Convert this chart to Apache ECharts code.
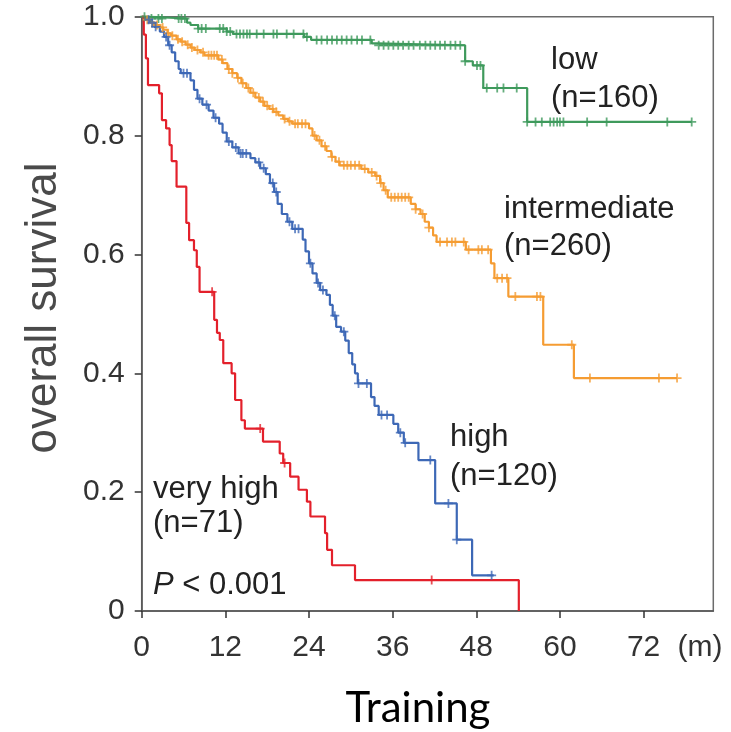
<!DOCTYPE html>
<html>
<head>
<meta charset="utf-8">
<script src="https://cdn.jsdelivr.net/npm/echarts@6/dist/echarts.min.js"></script>
<style>html,body{margin:0;padding:0;background:#fff}#c{width:731px;height:732px}</style>
</head>
<body>
<div id="c"></div>
<script>
// ---- data (months, survival) ----
const xTicks = [0, 12, 24, 36, 48, 60, 72];
const yTicks = [0, 0.2, 0.4, 0.6, 0.8, 1.0];

const lowTime = [0, 0.8, 6.5, 7.0, 8.1, 12.2, 13.1, 23.3, 24.3, 33.0, 33.7, 46.4, 47.5, 49.0, 55.3, 78.9];
const lowSurv = [1, 0.997, 0.99, 0.986, 0.98, 0.975, 0.971, 0.966, 0.961, 0.955, 0.952, 0.925, 0.918, 0.88, 0.823, 0.823];
const lowCensor = [0.4, 1.4, 2.4, 2.9, 5.3, 5.7, 6.2, 8.1, 8.6, 9.2, 11.2, 11.7, 12.2, 12.7, 13.6, 14.1, 14.6, 15.1, 15.5, 16.5, 17.5, 18.9, 19.4, 20.8, 21.8, 23.2, 23.7, 25.1, 25.8, 26.6, 27.3, 28.0, 28.7, 29.4, 30.1, 30.9, 31.6, 32.8, 34.0, 34.7, 35.4, 36.1, 36.8, 37.5, 38.3, 39.0, 39.9, 40.7, 41.4, 42.1, 42.8, 43.5, 44.3, 45.0, 45.7, 46.4, 48.1, 48.6, 49.5, 51.0, 51.9, 53.8, 55.3, 56.5, 57.4, 58.6, 59.1, 59.6, 60.0, 60.5, 63.9, 66.7, 75.4, 78.9];

const interTime = [0, 0.6, 1.2, 1.9, 2.6, 3.1, 3.7, 4.2, 5.0, 5.6, 6.3, 7.0, 7.6, 8.4, 9.0, 11.0, 11.6, 12.3, 13.0, 13.7, 14.3, 15.0, 15.6, 16.3, 17.0, 17.6, 18.3, 18.9, 19.6, 20.3, 21.0, 21.6, 24.0, 24.5, 25.1, 25.8, 26.5, 27.2, 27.8, 28.4, 31.5, 32.5, 33.5, 34.2, 34.7, 35.3, 38.6, 39.3, 40.0, 40.6, 41.2, 41.8, 42.3, 46.5, 50.1, 50.6, 52.6, 57.6, 62.0, 76.8];
const interSurv = [1, 0.995, 0.99, 0.986, 0.982, 0.978, 0.972, 0.968, 0.962, 0.958, 0.953, 0.948, 0.944, 0.94, 0.935, 0.928, 0.922, 0.912, 0.905, 0.897, 0.888, 0.88, 0.872, 0.864, 0.857, 0.85, 0.845, 0.84, 0.834, 0.828, 0.824, 0.82, 0.812, 0.8, 0.792, 0.782, 0.774, 0.764, 0.756, 0.75, 0.744, 0.738, 0.732, 0.72, 0.708, 0.696, 0.685, 0.676, 0.668, 0.655, 0.645, 0.632, 0.621, 0.608, 0.585, 0.56, 0.529, 0.448, 0.392, 0.392];
const interCensor = [0.8, 1.5, 2.2, 3.0, 3.8, 4.4, 5.2, 5.8, 6.6, 7.2, 8.0, 8.8, 9.6, 10.0, 10.4, 10.8, 11.5, 12.5, 13.0, 13.8, 14.5, 15.3, 16.0, 16.8, 17.4, 18.0, 18.8, 19.3, 20.5, 21.2, 22.0, 22.4, 23.0, 23.5, 24.8, 25.5, 26.3, 27.3, 28.3, 29.0, 29.5, 30.0, 30.6, 31.2, 32.0, 33.0, 33.7, 34.3, 35.0, 35.8, 36.3, 36.8, 37.3, 37.8, 38.3, 39.3, 40.3, 41.2, 42.8, 43.8, 44.5, 45.0, 46.2, 46.9, 48.3, 48.8, 49.7, 51.0, 51.7, 52.4, 53.6, 56.7, 57.2, 61.7, 64.3, 74.2, 76.8];

const highTime = [0, 0.5, 1.2, 1.8, 2.6, 3.2, 3.8, 4.3, 4.8, 5.3, 5.6, 7.0, 7.5, 8.0, 8.7, 9.6, 10.3, 11.1, 11.6, 12.2, 13.0, 13.9, 15.6, 16.3, 17.0, 17.8, 18.4, 19.0, 19.5, 20.1, 20.9, 21.6, 23.1, 23.5, 24.0, 24.5, 25.1, 25.6, 26.5, 27.0, 27.4, 27.9, 28.6, 29.2, 29.7, 30.2, 30.6, 31.0, 32.9, 33.4, 34.0, 36.1, 36.8, 37.6, 39.7, 42.1, 45.2, 47.4, 50.5];
const highSurv = [1, 0.995, 0.99, 0.983, 0.975, 0.966, 0.952, 0.94, 0.925, 0.912, 0.905, 0.893, 0.877, 0.862, 0.852, 0.842, 0.83, 0.82, 0.805, 0.79, 0.78, 0.77, 0.762, 0.755, 0.745, 0.735, 0.72, 0.705, 0.685, 0.668, 0.655, 0.643, 0.625, 0.605, 0.585, 0.568, 0.552, 0.54, 0.532, 0.515, 0.497, 0.478, 0.47, 0.455, 0.434, 0.415, 0.4, 0.383, 0.36, 0.345, 0.33, 0.315, 0.3, 0.283, 0.254, 0.181, 0.12, 0.06, 0.06];
const highCensor = [1.0, 1.5, 2.0, 3.5, 4.0, 6.0, 6.5, 8.3, 9.3, 10.6, 12.5, 13.5, 14.2, 14.5, 15.0, 16.8, 17.5, 18.8, 19.3, 21.2, 22.0, 22.5, 24.2, 25.3, 26.0, 27.7, 29.0, 31.1, 32.3, 34.4, 35.2, 37.1, 37.8, 41.4, 44.0, 45.2, 50.2];

const vhTime = [0, 0.3, 0.6, 0.9, 2.5, 2.9, 3.5, 4.0, 4.3, 5.0, 6.4, 6.8, 7.5, 7.9, 8.3, 10.4, 10.8, 11.2, 11.7, 12.9, 13.4, 14.3, 14.8, 17.4, 19.8, 20.3, 21.3, 22.5, 23.7, 24.2, 26.3, 26.6, 27.3, 30.6, 54.1];
const vhSurv = [1, 0.97, 0.93, 0.885, 0.871, 0.826, 0.812, 0.784, 0.757, 0.714, 0.653, 0.624, 0.607, 0.579, 0.537, 0.49, 0.468, 0.456, 0.417, 0.4, 0.355, 0.321, 0.307, 0.285, 0.265, 0.249, 0.226, 0.204, 0.184, 0.159, 0.131, 0.103, 0.077, 0.052, 0];
const vhCensor = [10.1, 17.0, 20.5, 41.6];

const colors = { low: '#3f9a5c', inter: '#f59c32', high: '#3d68b6', vh: '#e3202b' };

function pairs(T, S) { return T.map((t, i) => [t, S[i]]); }
function survAt(T, S, t) { let s = S[0]; for (let i = 0; i < T.length; i++) { if (T[i] <= t) s = S[i]; } return s; }
function censorPts(C, T, S) { return C.map(t => [t, survAt(T, S, t)]); }

const plus = 'path://M4,0h2v4h4v2h-4v4h-2v-4h-4v-2h4z';
function kmLine(name, T, S, color) {
  return { name, type: 'line', step: 'end', data: pairs(T, S), showSymbol: false, symbol: 'none',
    lineStyle: { color, width: 2.2 }, z: 3, animation: false };
}
function censor(name, C, T, S, color) {
  return { name: name + 'c', type: 'scatter', data: censorPts(C, T, S), symbol: plus, symbolSize: 9,
    itemStyle: { color }, z: 4, animation: false, silent: true };
}

const chart = echarts.init(document.getElementById('c'), null, { renderer: 'canvas' });
const labelFont = '"Liberation Sans", Arial, sans-serif';
const annFont = '"Liberation Sans", Arial, sans-serif';
chart.setOption({
  animation: false,
  backgroundColor: '#fff',
  grid: { left: 141.7, top: 16.7, right: 17.7, bottom: 121, show: true, borderColor: '#6b6b6b', borderWidth: 1.5, outerBoundsMode: 'none', containLabel: false },
  xAxis: {
    type: 'value', min: 0, max: 82, interval: 12,
    axisLine: { show: true, lineStyle: { color: '#555', width: 1.5 } },
    axisTick: { show: true, inside: false, length: 7, lineStyle: { color: '#333', width: 1.5 }, customValues: xTicks },
    axisLabel: { customValues: xTicks, margin: 22, fontSize: 30, fontFamily: labelFont, color: '#333', formatter: v => String(v) },
    splitLine: { show: false }
  },
  yAxis: {
    type: 'value', min: 0, max: 1, interval: 0.2,
    axisLine: { show: true, lineStyle: { color: '#555', width: 1.5 } },
    axisTick: { show: true, inside: false, length: 7, lineStyle: { color: '#333', width: 1.5 }, customValues: yTicks },
    axisLabel: { customValues: yTicks, margin: 17, fontSize: 30, fontFamily: labelFont, color: '#333', formatter: v => v === 0 ? '0' : v.toFixed(1) },
    splitLine: { show: false }
  },
  series: [
    kmLine('low', lowTime, lowSurv, colors.low),
    kmLine('intermediate', interTime, interSurv, colors.inter),
    kmLine('high', highTime, highSurv, colors.high),
    kmLine('very high', vhTime, vhSurv, colors.vh),
    censor('low', lowCensor, lowTime, lowSurv, colors.low),
    censor('intermediate', interCensor, interTime, interSurv, colors.inter),
    censor('high', highCensor, highTime, highSurv, colors.high),
    censor('very high', vhCensor, vhTime, vhSurv, colors.vh)
  ],
  graphic: [
    { type: 'text', x: 551, y: 60, style: { text: 'low', font: '31px ' + annFont, fill: '#222', align: 'left', verticalAlign: 'middle' } },
    { type: 'text', x: 551, y: 98, style: { text: '(n=160)', font: '31px ' + annFont, fill: '#222', align: 'left', verticalAlign: 'middle' } },
    { type: 'text', x: 504, y: 209, style: { text: 'intermediate', font: '31px ' + annFont, fill: '#222', align: 'left', verticalAlign: 'middle' } },
    { type: 'text', x: 504, y: 246, style: { text: '(n=260)', font: '31px ' + annFont, fill: '#222', align: 'left', verticalAlign: 'middle' } },
    { type: 'text', x: 450, y: 437, style: { text: 'high', font: '31px ' + annFont, fill: '#222', align: 'left', verticalAlign: 'middle' } },
    { type: 'text', x: 450, y: 476, style: { text: '(n=120)', font: '31px ' + annFont, fill: '#222', align: 'left', verticalAlign: 'middle' } },
    { type: 'text', x: 153, y: 489, style: { text: 'very high', font: '31px ' + annFont, fill: '#222', align: 'left', verticalAlign: 'middle' } },
    { type: 'text', x: 153, y: 523, style: { text: '(n=71)', font: '31px ' + annFont, fill: '#222', align: 'left', verticalAlign: 'middle' } },
    { type: 'text', x: 153, y: 585, style: { text: '{i|P} < 0.001', font: '31px ' + annFont, fill: '#222', align: 'left', verticalAlign: 'middle',
        rich: { i: { fontStyle: 'italic', fontSize: 31, fontFamily: annFont, fill: '#222' } } } },
    { type: 'text', x: 700, y: 648, style: { text: '(m)', font: '30px ' + labelFont, fill: '#333', align: 'center', verticalAlign: 'middle' } },
    { type: 'text', x: 44, y: 308, rotation: Math.PI / 2, style: { text: 'overall survival', font: '44px ' + annFont, fill: '#4a4a4a', align: 'center', verticalAlign: 'middle' } },
    { type: 'text', x: 418, y: 708, style: { text: 'Training', font: '42px Lato, "Open Sans", sans-serif', fill: '#000', align: 'center', verticalAlign: 'middle' } }
  ]
});
</script>
</body>
</html>
